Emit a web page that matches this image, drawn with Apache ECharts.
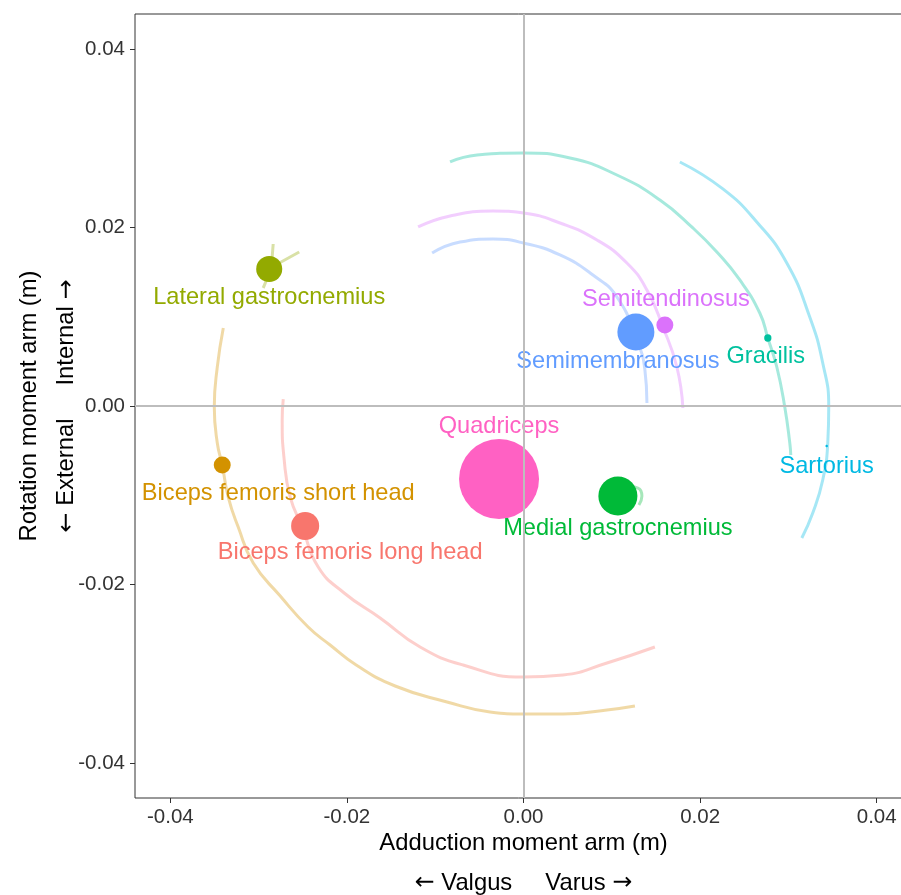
<!DOCTYPE html>
<html>
<head>
<meta charset="utf-8">
<title>Knee moment arms</title>
<script src="https://cdn.jsdelivr.net/npm/echarts/dist/echarts.min.js"></script>
<style>
  html, body { margin: 0; padding: 0; background: #fff; }
  #chart { width: 901px; height: 895px; }
</style>
</head>
<body>
<div id="chart"></div>
<script>
// muscles and their moment arms (m)
const muscles = [
  "Biceps femoris long head",
  "Biceps femoris short head",
  "Lateral gastrocnemius",
  "Medial gastrocnemius",
  "Gracilis",
  "Sartorius",
  "Semimembranosus",
  "Semitendinosus",
  "Quadriceps",
];
const adduction = [-0.02473, -0.03412, -0.0288, 0.01069, 0.02767, 0.03434, 0.01273, 0.01601, -0.00277];
const rotation = [-0.01344, -0.00661, 0.01535, -0.01008, 0.00762, -0.00448, 0.00829, 0.00908, -0.00818];
// relative muscle strength (quadriceps = 100), drives bubble area
const relForce = [12.3, 4.5, 10.6, 23.8, 0.83, 0.1, 21.4, 4.5, 100];

// moment arm trajectories over the range of knee flexion
const arcBFLH = [
  [-0.02721, 0.00078], [-0.02733, -0.00157], [-0.0271, -0.00605], [-0.02642, -0.0102],
  [-0.02506, -0.01356], [-0.02325, -0.01804], [-0.02031, -0.02095], [-0.01624, -0.02375],
  [-0.01171, -0.027], [-0.00685, -0.02902], [-0.00006, -0.03036], [0.00447, -0.03014],
  [0.00945, -0.02879], [0.01488, -0.027],
];
const arcBFSH = [
  [-0.034, 0.00874], [-0.03468, 0.00437], [-0.03502, -0.00011], [-0.03468, -0.00415],
  [-0.03412, -0.00661], [-0.03344, -0.0102], [-0.03231, -0.01356], [-0.03061, -0.01759],
  [-0.02755, -0.02129], [-0.02439, -0.02476], [-0.0219, -0.02678], [-0.01895, -0.02902],
  [-0.01454, -0.03137], [-0.00866, -0.03316], [-0.00379, -0.03428], [0.0, -0.03451],
  [0.00447, -0.03451], [0.00945, -0.03406], [0.01262, -0.03361],
];
const arcLG = [
  [-0.02835, 0.01815], [-0.02869, 0.01546], [-0.02948, 0.01322], "-",
  [-0.02869, 0.01546], [-0.0254, 0.01725],
];
const arcMG = [[0.01149, -0.00896], [0.01296, -0.00919], [0.01341, -0.01008], [0.01307, -0.01109]];
const arcGracilis = [
  [-0.00832, 0.02734], [-0.00526, 0.02812], [0.0, 0.02835], [0.00526, 0.02779],
  [0.01058, 0.02588], [0.01545, 0.02308], [0.01918, 0.01995], [0.0219, 0.01725],
  [0.0245, 0.01412], [0.02676, 0.01042], [0.02767, 0.00762], [0.02869, 0.00437],
  [0.02959, -0.00011], [0.03016, -0.00415], [0.03027, -0.00549],
];
const arcSartorius = [
  [0.01771, 0.02734], [0.02258, 0.02432], [0.02642, 0.02062], [0.02982, 0.01602],
  [0.03242, 0.00997], [0.03389, 0.00482], [0.03457, -0.00011], [0.03446, -0.00415],
  [0.03389, -0.00829], [0.03276, -0.01199], [0.03152, -0.01479],
];
const arcSM = [
  [-0.01035, 0.01714], [-0.00719, 0.01837], [-0.00345, 0.01871], [0.0, 0.01826],
  [0.00413, 0.01692], [0.00786, 0.01468], [0.01058, 0.01221], [0.01284, 0.00739],
  [0.01375, 0.00403], [0.01398, 0.00034],
];
const arcST = [
  [-0.01194, 0.02006], [-0.00832, 0.02129], [-0.00345, 0.02185], [0.0, 0.02162],
  [0.00413, 0.0205], [0.00832, 0.0186], [0.01171, 0.01602], [0.01398, 0.013],
  [0.01579, 0.00885], [0.01737, 0.00437], [0.01805, -0.00022],
];
const arcs = [arcBFLH, arcBFSH, arcLG, arcMG, arcGracilis, arcSartorius, arcSM, arcST, []];
const tickValues = [-0.04, -0.02, 0, 0.02, 0.04];

// ggplot hue palette
const colors = ["#F8766D", "#D39200", "#93AA00", "#00BA38", "#00C19F", "#00B9E3", "#619CFF", "#DB72FB", "#FF61C3"];
// where each name sits relative to its bubble (px)
const labelOffsets = [[45, 27], [56, 28], [0, 28], [0, 33], [-2, 18], [0, 20], [-18, 29], [1, -25], [0, -53]];

const font = "'Liberation Sans', Arial, sans-serif";
const arrowFont = "'DejaVu Sans', sans-serif";

const chart = echarts.init(document.getElementById("chart"));

const arcSeries = arcs.map((pts, i) => ({
  type: "line",
  name: muscles[i] + " arc",
  data: pts,
  smooth: 0.5,
  showSymbol: false,
  silent: true,
  z: 2,
  lineStyle: { color: colors[i], width: 3, opacity: 0.35 },
}));

const bubbles = muscles.map((m, i) => ({
  value: [adduction[i], rotation[i]],
  name: m,
  symbolSize: 8 * Math.sqrt(relForce[i]),
  itemStyle: { color: colors[i] },
  label: {
    show: true,
    position: "inside",
    offset: labelOffsets[i],
    formatter: m,
    color: colors[i],
    fontSize: 23.6,
    fontFamily: font,
  },
}));

function nameRich(lh) {
  return {
    t: { color: "#000", fontSize: 23.8, fontFamily: font, lineHeight: lh },
    a: { color: "#000", fontSize: 23.8, fontFamily: arrowFont, lineHeight: lh },
  };
}

const axisCommon = {
  type: "value",
  nameLocation: "middle",
  nameMoveOverlap: false,
  axisLine: { show: false, onZero: false },
  splitLine: { show: false },
  axisTick: {
    show: true,
    length: 5,
    customValues: tickValues,
    lineStyle: { color: "#333", width: 1 },
  },
  axisLabel: {
    customValues: tickValues,
    formatter: (v) => v.toFixed(2),
    color: "#333",
    fontSize: 20.5,
    fontFamily: font,
  },
};

const option = {
  animation: false,
  backgroundColor: "#fff",
  grid: {
    left: 135,
    right: -11,
    top: 14,
    bottom: 97,
    show: true,
    borderColor: "#333",
    borderWidth: 1,
    containLabel: false,
    outerBoundsMode: "none",
  },
  xAxis: Object.assign({}, axisCommon, {
    min: -0.044,
    max: 0.044,
    name: "{t|Adduction moment arm (m)}\n{a|←}{t| Valgus     Varus }{a|→}",
    nameGap: 25,
    nameTextStyle: { rich: nameRich(40), lineHeight: 40 },
    axisLabel: Object.assign({}, axisCommon.axisLabel, { margin: 9 }),
  }),
  yAxis: Object.assign({}, axisCommon, {
    min: -0.04392,
    max: 0.04392,
    name: "{t|Rotation moment arm (m)}\n{a|←}{t| External     Internal }{a|→}",
    nameRotate: 90,
    nameGap: 50,
    nameTextStyle: { rich: nameRich(37), lineHeight: 37 },
    axisLabel: Object.assign({}, axisCommon.axisLabel, { margin: 10 }),
  }),
  series: [
    {
      // zero reference lines
      type: "scatter",
      data: [],
      silent: true,
      z: 1,
      markLine: {
        silent: true,
        symbol: ["none", "none"],
        label: { show: false },
        lineStyle: { color: "#bdbdbd", width: 2, type: "solid" },
        data: [{ xAxis: 0 }, { yAxis: 0 }],
      },
    },
    ...arcSeries,
    {
      type: "scatter",
      name: "muscles",
      data: bubbles,
      z: 3,
      itemStyle: { opacity: 1 },
    },
  ],
};

chart.setOption(option);
</script>
</body>
</html>
